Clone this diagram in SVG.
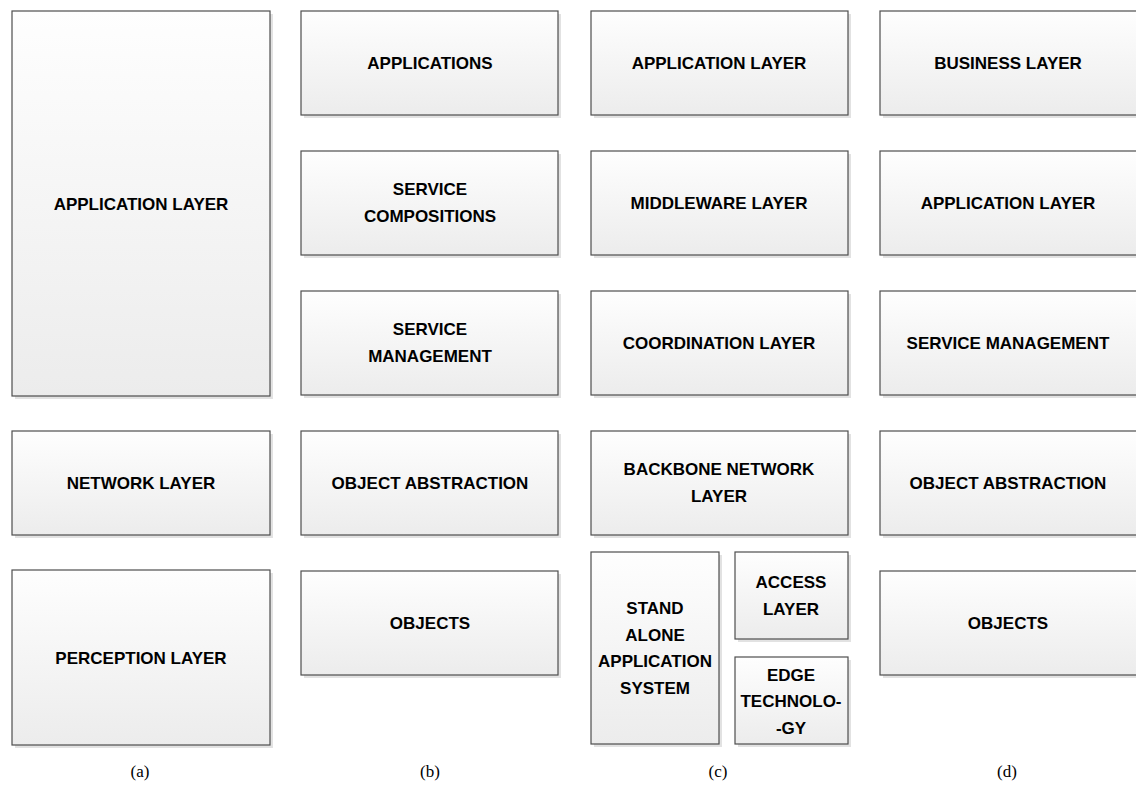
<svg xmlns="http://www.w3.org/2000/svg" width="1136" height="808" viewBox="0 0 1136 808">
  <defs>
    <linearGradient id="boxFill" x1="0" y1="0" x2="0" y2="1">
      <stop offset="0" stop-color="#fefefe"/>
      <stop offset="1" stop-color="#ececec"/>
    </linearGradient>
    <style>
      .shadow { fill: #e2e2e2; }
      .box { fill: url(#boxFill); stroke: #4e4e4e; stroke-width: 1.2; }
      .lbl { font-family: "Liberation Sans", Arial, sans-serif; font-weight: bold; font-size: 17px; fill: #000; text-anchor: middle; }
      .cap { font-family: "Liberation Serif", "Times New Roman", serif; font-size: 17px; fill: #000; text-anchor: middle; }
    </style>
  </defs>
  <rect width="1136" height="808" fill="#ffffff"/>

  <!-- column (a) -->
  <g id="a-application-layer">
    <rect class="shadow" x="15" y="14" width="258" height="385"/>
    <rect class="box" x="12" y="11" width="258" height="385"/>
    <text class="lbl" x="141" y="210">APPLICATION LAYER</text>
  </g>
  <g id="a-network-layer">
    <rect class="shadow" x="15" y="434" width="258" height="104"/>
    <rect class="box" x="12" y="431" width="258" height="104"/>
    <text class="lbl" x="141" y="489">NETWORK LAYER</text>
  </g>
  <g id="a-perception-layer">
    <rect class="shadow" x="15" y="573" width="258" height="175"/>
    <rect class="box" x="12" y="570" width="258" height="175"/>
    <text class="lbl" x="141" y="664">PERCEPTION LAYER</text>
  </g>

  <!-- column (b) -->
  <g id="b-applications">
    <rect class="shadow" x="304" y="14" width="257" height="104"/>
    <rect class="box" x="301" y="11" width="257" height="104"/>
    <text class="lbl" x="430" y="69">APPLICATIONS</text>
  </g>
  <g id="b-service-compositions">
    <rect class="shadow" x="304" y="154" width="257" height="104"/>
    <rect class="box" x="301" y="151" width="257" height="104"/>
    <text class="lbl" x="430" y="195">SERVICE</text>
    <text class="lbl" x="430" y="222">COMPOSITIONS</text>
  </g>
  <g id="b-service-management">
    <rect class="shadow" x="304" y="294" width="257" height="104"/>
    <rect class="box" x="301" y="291" width="257" height="104"/>
    <text class="lbl" x="430" y="335">SERVICE</text>
    <text class="lbl" x="430" y="362">MANAGEMENT</text>
  </g>
  <g id="b-object-abstraction">
    <rect class="shadow" x="304" y="434" width="257" height="104"/>
    <rect class="box" x="301" y="431" width="257" height="104"/>
    <text class="lbl" x="430" y="489">OBJECT ABSTRACTION</text>
  </g>
  <g id="b-objects">
    <rect class="shadow" x="304" y="574" width="257" height="104"/>
    <rect class="box" x="301" y="571" width="257" height="104"/>
    <text class="lbl" x="430" y="629">OBJECTS</text>
  </g>

  <!-- column (c) -->
  <g id="c-application-layer">
    <rect class="shadow" x="594" y="14" width="257" height="104"/>
    <rect class="box" x="591" y="11" width="257" height="104"/>
    <text class="lbl" x="719" y="69">APPLICATION LAYER</text>
  </g>
  <g id="c-middleware-layer">
    <rect class="shadow" x="594" y="154" width="257" height="104"/>
    <rect class="box" x="591" y="151" width="257" height="104"/>
    <text class="lbl" x="719" y="209">MIDDLEWARE LAYER</text>
  </g>
  <g id="c-coordination-layer">
    <rect class="shadow" x="594" y="294" width="257" height="104"/>
    <rect class="box" x="591" y="291" width="257" height="104"/>
    <text class="lbl" x="719" y="349">COORDINATION LAYER</text>
  </g>
  <g id="c-backbone-network-layer">
    <rect class="shadow" x="594" y="434" width="257" height="104"/>
    <rect class="box" x="591" y="431" width="257" height="104"/>
    <text class="lbl" x="719" y="475">BACKBONE NETWORK</text>
    <text class="lbl" x="719" y="502">LAYER</text>
  </g>
  <g id="c-stand-alone-application-system">
    <rect class="shadow" x="594" y="555" width="128" height="192"/>
    <rect class="box" x="591" y="552" width="128" height="192"/>
    <text class="lbl" x="655" y="614">STAND</text>
    <text class="lbl" x="655" y="641">ALONE</text>
    <text class="lbl" x="655" y="667">APPLICATION</text>
    <text class="lbl" x="655" y="694">SYSTEM</text>
  </g>
  <g id="c-access-layer">
    <rect class="shadow" x="738" y="555" width="113" height="87"/>
    <rect class="box" x="735" y="552" width="113" height="87"/>
    <text class="lbl" x="791" y="588">ACCESS</text>
    <text class="lbl" x="791" y="615">LAYER</text>
  </g>
  <g id="c-edge-technology">
    <rect class="shadow" x="738" y="660" width="113" height="87"/>
    <rect class="box" x="735" y="657" width="113" height="87"/>
    <text class="lbl" x="791" y="681">EDGE</text>
    <text class="lbl" x="791" y="707">TECHNOLO-</text>
    <text class="lbl" x="791" y="734">-GY</text>
  </g>

  <!-- column (d) -->
  <g id="d-business-layer">
    <rect class="shadow" x="883" y="14" width="257" height="104"/>
    <rect class="box" x="880" y="11" width="257" height="104"/>
    <text class="lbl" x="1008" y="69">BUSINESS LAYER</text>
  </g>
  <g id="d-application-layer">
    <rect class="shadow" x="883" y="154" width="257" height="104"/>
    <rect class="box" x="880" y="151" width="257" height="104"/>
    <text class="lbl" x="1008" y="209">APPLICATION LAYER</text>
  </g>
  <g id="d-service-management">
    <rect class="shadow" x="883" y="294" width="257" height="104"/>
    <rect class="box" x="880" y="291" width="257" height="104"/>
    <text class="lbl" x="1008" y="349">SERVICE MANAGEMENT</text>
  </g>
  <g id="d-object-abstraction">
    <rect class="shadow" x="883" y="434" width="257" height="104"/>
    <rect class="box" x="880" y="431" width="257" height="104"/>
    <text class="lbl" x="1008" y="489">OBJECT ABSTRACTION</text>
  </g>
  <g id="d-objects">
    <rect class="shadow" x="883" y="574" width="257" height="104"/>
    <rect class="box" x="880" y="571" width="257" height="104"/>
    <text class="lbl" x="1008" y="629">OBJECTS</text>
  </g>

  <!-- no connectors between the stacked layers -->
  <g id="connectors"></g>

  <!-- column captions -->
  <g id="captions">
    <text class="cap" x="140" y="777">(a)</text>
    <text class="cap" x="430" y="777">(b)</text>
    <text class="cap" x="718" y="777">(c)</text>
    <text class="cap" x="1007" y="777">(d)</text>
  </g>
</svg>
